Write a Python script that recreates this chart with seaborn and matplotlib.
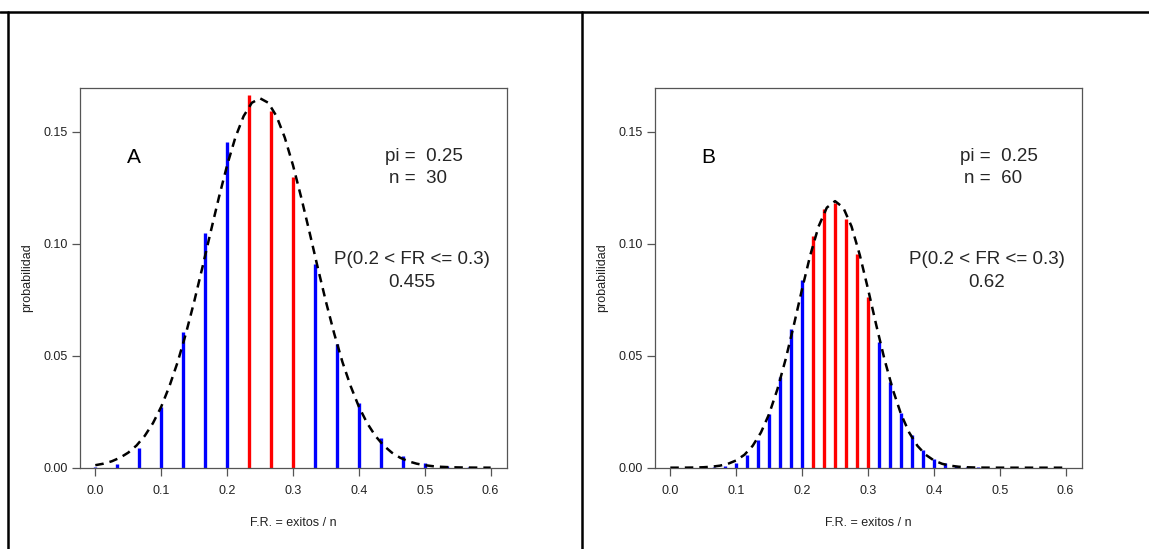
import numpy as np
import pandas as pd
import matplotlib
matplotlib.use("Agg")
import matplotlib.pyplot as plt
import seaborn as sns
from matplotlib.lines import Line2D

# ---------------- data ----------------
pi_val = 0.25
n_A = 30
n_B = 60

exitos_A = list(range(0, 19))
prob_A = [0.00018, 0.0018, 0.0086, 0.0269, 0.0604, 0.1047, 0.1455, 0.1662,
          0.1593, 0.1298, 0.0909, 0.0551, 0.0291, 0.0134, 0.0054, 0.0019,
          0.0006, 0.00015, 0.00003]

exitos_B = list(range(0, 37))
prob_B = [0.00000003, 0.0000006, 0.0000063, 0.00004, 0.00019, 0.00072,
          0.0022, 0.0056, 0.0124, 0.0240, 0.0407, 0.0617, 0.0840, 0.1033,
          0.1157, 0.1182, 0.1108, 0.0956, 0.0761, 0.0561, 0.0383, 0.0243,
          0.0144, 0.0079, 0.0041, 0.0020, 0.0009, 0.0004, 0.00015, 0.00005,
          0.00002, 0.00001, 0.0, 0.0, 0.0, 0.0, 0.0]

# dashed approximation curve, read on a grid of 49 points from 0 to 0.6
curva_x = np.linspace(0.0, 0.6, 49)
curva_A = [0.00111, 0.00181, 0.00287, 0.00446, 0.00673, 0.0099, 0.0142,
           0.0199, 0.0272, 0.0364, 0.0472, 0.0599, 0.0741, 0.0894, 0.1052,
           0.1206, 0.1350, 0.1474, 0.1569, 0.1629, 0.1649, 0.1629, 0.1569,
           0.1474, 0.1350, 0.1206, 0.1052, 0.0894, 0.0741, 0.0599, 0.0472,
           0.0364, 0.0272, 0.0199, 0.0142, 0.0099, 0.00673, 0.00446, 0.00287,
           0.00181, 0.00111, 0.00067, 0.00039, 0.00023, 0.00013, 0.00007,
           0.00004, 0.00002, 0.00001]
curva_B = [0.000005, 0.000014, 0.000036, 0.000087, 0.0002, 0.00043, 0.00089,
           0.00174, 0.00325, 0.00578, 0.00977, 0.0157, 0.0240, 0.0350, 0.0484,
           0.0637, 0.0798, 0.0950, 0.1077, 0.1161, 0.1190, 0.1161, 0.1077,
           0.0950, 0.0798, 0.0637, 0.0484, 0.0350, 0.0240, 0.0157, 0.00977,
           0.00578, 0.00325, 0.00174, 0.00089, 0.00043, 0.0002, 0.000087,
           0.000036, 0.000014, 0.000005, 0.000002, 0.000001, 0.0, 0.0, 0.0,
           0.0, 0.0, 0.0]

p_intervalo_A = "0.455"
p_intervalo_B = "0.62"
limite_inf = 0.2
limite_sup = 0.3

xticks = [0.0, 0.1, 0.2, 0.3, 0.4, 0.5, 0.6]
yticks = [0.00, 0.05, 0.10, 0.15]
ytick_labels = ["0.00", "0.05", "0.10", "0.15"]

# ---------------- style ----------------
sns.set_style("ticks")
plt.rcParams["font.family"] = ["Liberation Sans", "DejaVu Sans"]

W, H = 1149, 549
fig = plt.figure(figsize=(W / 100, H / 100), dpi=100)

ax_w = 427 / W
ax_h = (467.7 - 88) / H
ax_bottom = 1 - 467.7 / H
axA = fig.add_axes([79.5 / W, ax_bottom, ax_w, ax_h])
axB = fig.add_axes([654.5 / W, ax_bottom, ax_w, ax_h])

axis_col = "#555555"
text_col = "#222222"


def panel(ax, n, exitos, prob, curva, letra, p_text):
    fr = np.array(exitos) / n
    df = pd.DataFrame({"fr": fr, "prob": prob})
    en_int = (df["fr"] > limite_inf + 1e-9) & (df["fr"] <= limite_sup + 1e-9)
    fuera = df[~en_int]
    dentro = df[en_int]
    ax.vlines(fuera["fr"], 0, fuera["prob"], colors="#0000FF", lw=2.4, zorder=2)
    ax.vlines(dentro["fr"], 0, dentro["prob"], colors="#FF0000", lw=2.4, zorder=2)
    sns.lineplot(x=curva_x, y=curva, ax=ax, color="black", lw=1.8,
                 linestyle=(0, (3.4, 2.4)), zorder=3)

    ax.set_xlim(-0.024, 0.624)
    ax.set_ylim(0, 0.1695)
    ax.set_xticks(xticks)
    ax.set_xticklabels([f"{v:.1f}" for v in xticks])
    ax.set_yticks(yticks)
    ax.set_yticklabels(ytick_labels)
    ax.tick_params(axis="both", direction="out", length=5.5, width=0.9,
                   color=axis_col, labelcolor=text_col, labelsize=9)
    ax.tick_params(axis="x", pad=7)
    ax.tick_params(axis="y", pad=3)
    for s in ax.spines.values():
        s.set_visible(True)
        s.set_color(axis_col)
        s.set_linewidth(0.9)

    ax.set_xlabel("F.R. = exitos / n", fontsize=9, color=text_col, va="center")
    ax.xaxis.set_label_coords(0.5, -0.146)
    ax.set_ylabel("probabilidad", fontsize=9, color=text_col, va="center")
    ax.yaxis.set_label_coords(-0.123, 0.5)

    ax.text(0.058, 0.1383, letra, fontsize=15, ha="center", va="center", color="black")
    ax.text(0.499, 0.139, f"pi =  {pi_val}", fontsize=13.5, ha="center", va="center")
    ax.text(0.490, 0.1292, f"n =  {n}", fontsize=13.5, ha="center", va="center")
    ax.text(0.480, 0.0929, f"P({limite_inf} < FR <= {limite_sup})", fontsize=13.5,
            ha="center", va="center")
    ax.text(0.480, 0.0827, p_text, fontsize=13.5, ha="center", va="center")


panel(axA, n_A, exitos_A, prob_A, curva_A, "A", p_intervalo_A)
panel(axB, n_B, exitos_B, prob_B, curva_B, "B", p_intervalo_B)

# outer frame lines of the original layout
y_top = 1 - 11.5 / H
for (x0, y0, x1, y1) in [(0.0, y_top, 1.0, y_top),
                         (7.5 / W, 0.0, 7.5 / W, y_top),
                         (582 / W, 0.0, 582 / W, y_top)]:
    fig.add_artist(Line2D([x0, x1], [y0, y1], transform=fig.transFigure,
                          color="black", lw=1.8))

fig.savefig("out.png", dpi=100, facecolor="white")
